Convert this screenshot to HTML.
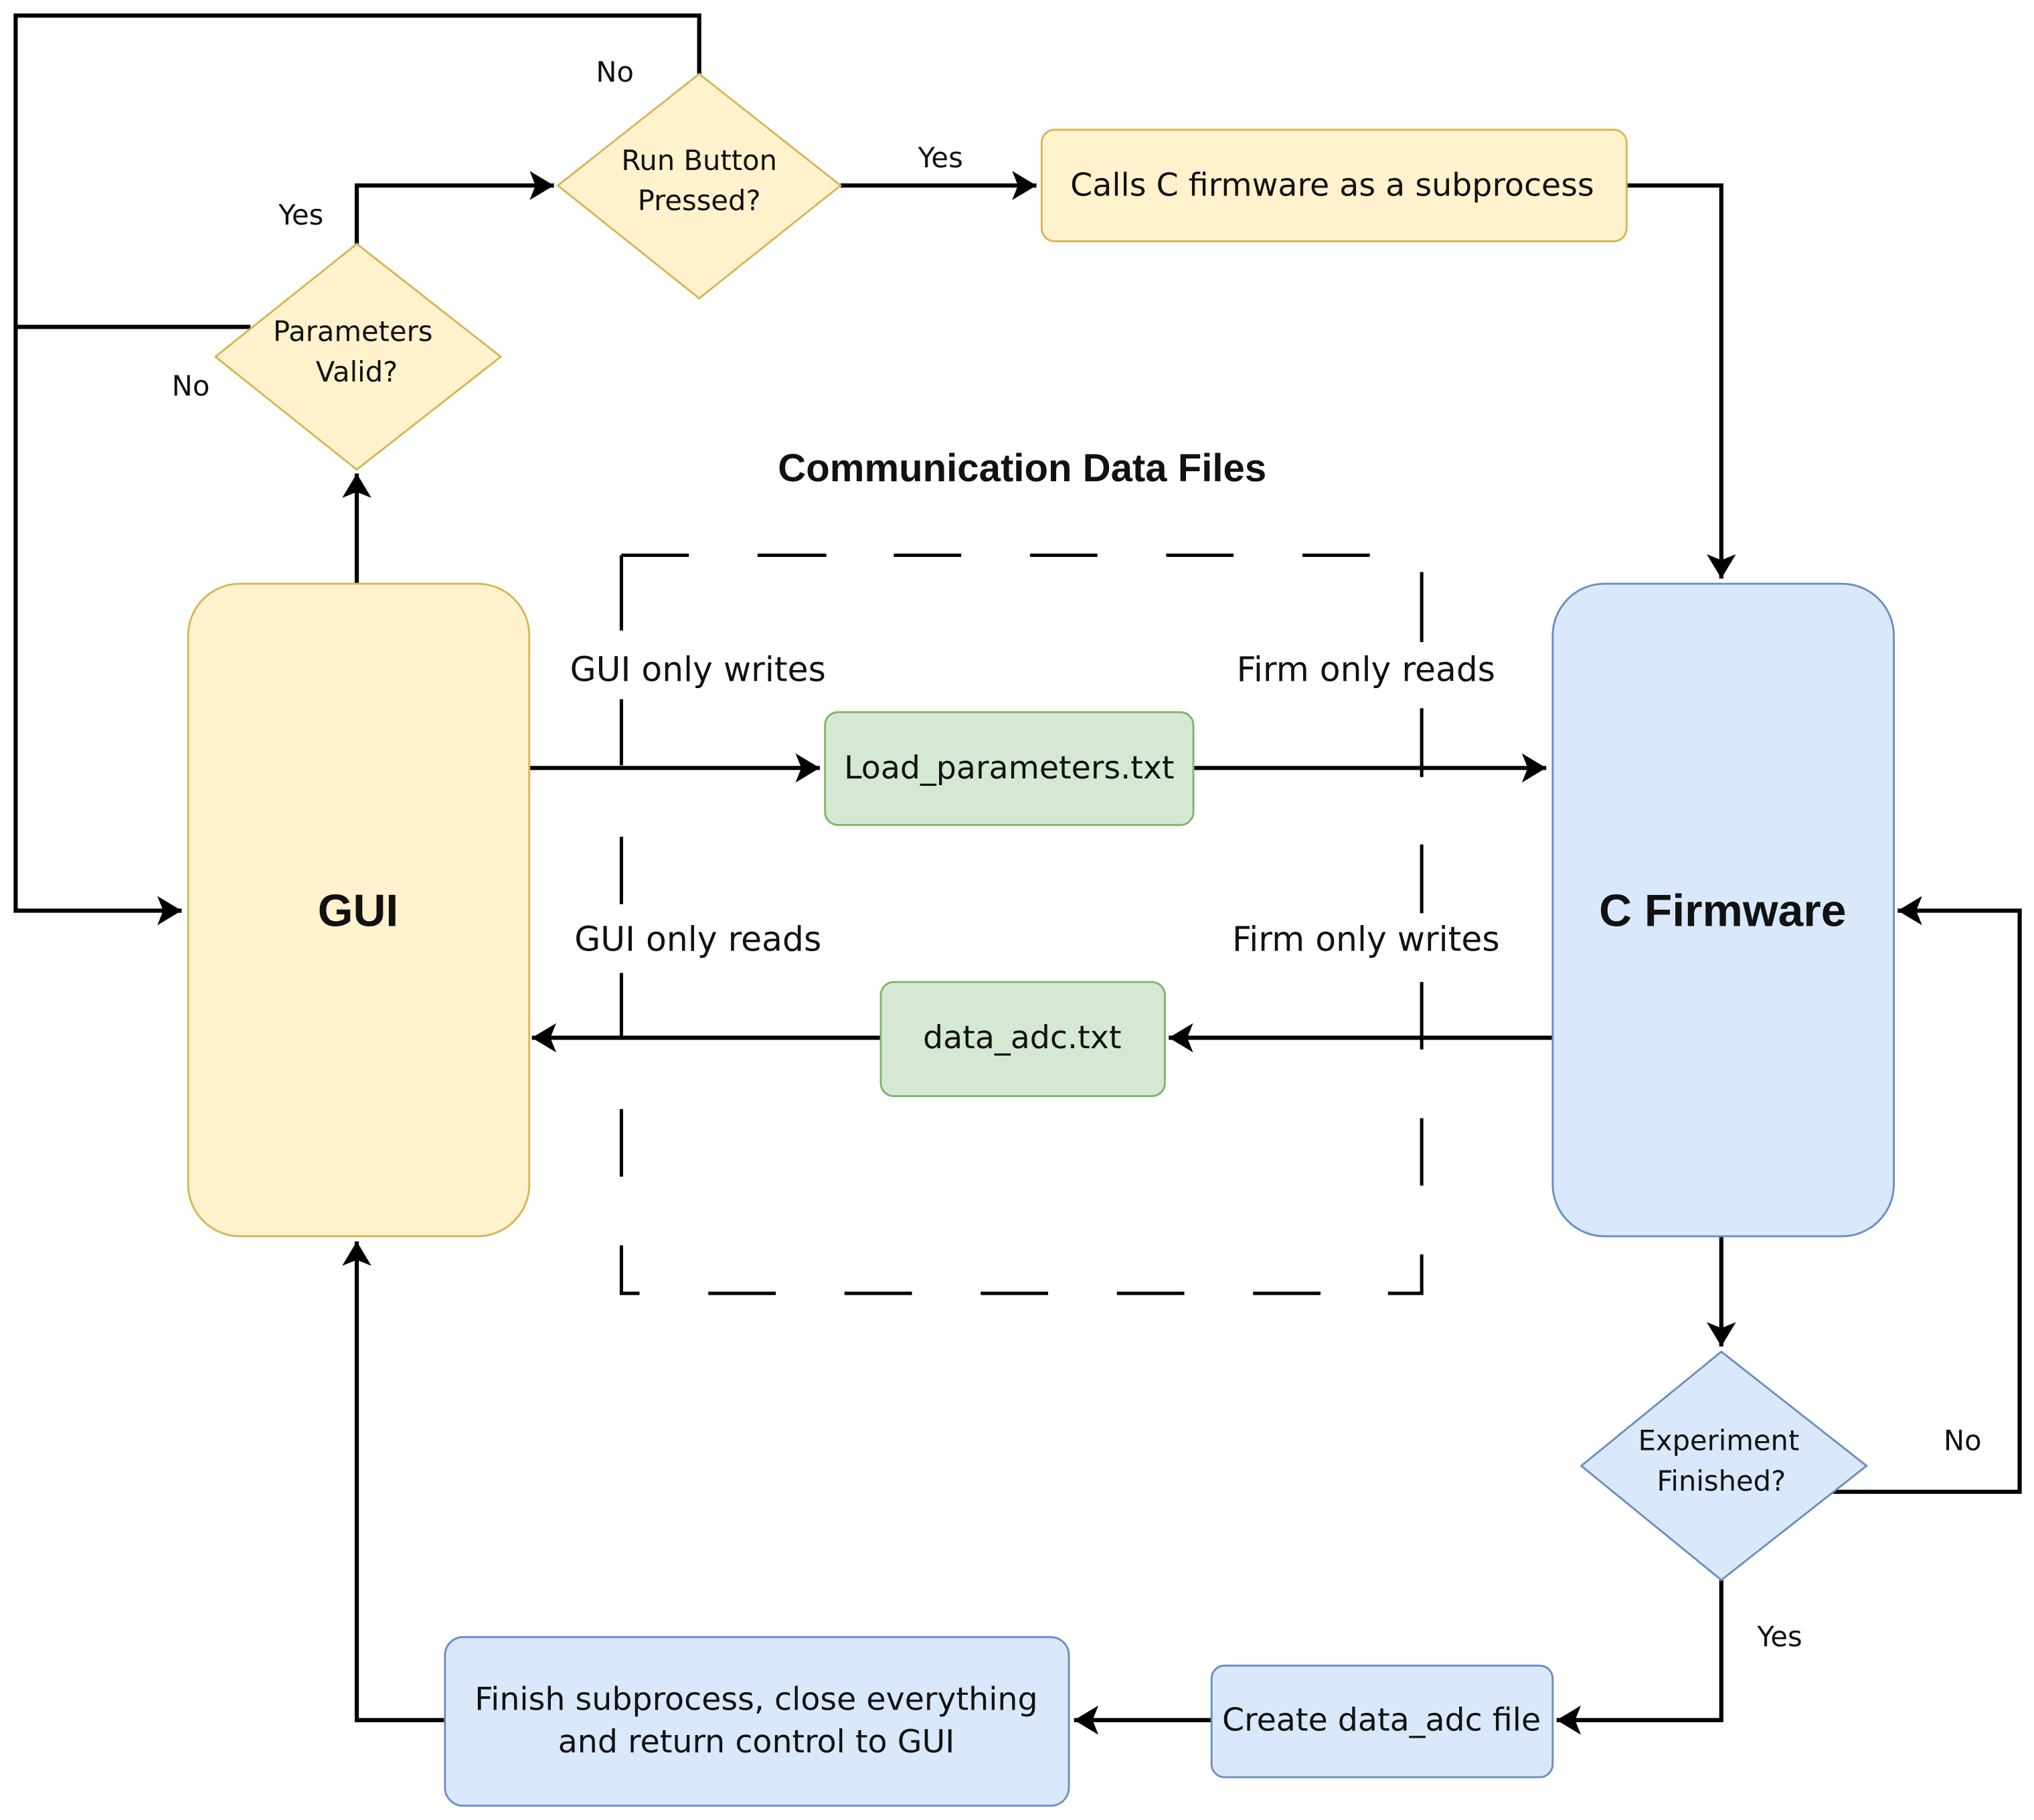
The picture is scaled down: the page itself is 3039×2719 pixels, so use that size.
<!DOCTYPE html>
<html><head><meta charset="utf-8"><style>
html,body{margin:0;padding:0;background:#fff;}
svg{display:block;}
text{font-family:"DejaVu Sans","Liberation Sans",sans-serif;fill:#111;}
</style></head><body>
<svg width="3039" height="2719" viewBox="0 0 1568 1403" xmlns="http://www.w3.org/2000/svg">
<defs>
<marker id="a" viewBox="0 0 12 12" refX="11" refY="6" markerWidth="9" markerHeight="9" markerUnits="userSpaceOnUse" orient="auto" overflow="visible">
<path d="M-14,-9 L11,6 L-14,21 L-8,6 Z" fill="#000"/>
</marker>
</defs>
<!-- dashed container -->
<g stroke="#000" stroke-width="2.6" fill="none">
<path d="M479,428 H531 M584,428 H637 M689,428 H741 M794,428 H846 M899,428 H951 M1004,428 H1056"/>
<path d="M479,428 V486 M479,539 V590 M479,645 V697 M479,750 V800 M479,855 V907 M479,960 V997 H493"/>
<path d="M546,997 H598 M651,997 H703 M756,997 H808 M861,997 H913 M966,997 H1018 M1070,997 H1096 V967 M1096,914 V862 M1096,809 V757 M1096,704 V651 M1096,599 V546 M1096,495 V441"/>
</g>
<g fill="none" stroke="#000" stroke-width="3.2">
<polyline points="539,57 539,12 12,12 12,702 140,702" marker-end="url(#a)"/>
<line x1="12" y1="252" x2="193" y2="252"/>
<polyline points="275,188 275,143 427,143" marker-end="url(#a)"/>
<line x1="648" y1="143" x2="799" y2="143" marker-end="url(#a)"/>
<polyline points="1254,143 1327,143 1327,446" marker-end="url(#a)"/>
<line x1="275" y1="450" x2="275" y2="365" marker-end="url(#a)"/>
<line x1="408" y1="592" x2="632" y2="592" marker-end="url(#a)"/>
<line x1="920" y1="592" x2="1192" y2="592" marker-end="url(#a)"/>
<line x1="1197" y1="800" x2="901" y2="800" marker-end="url(#a)"/>
<line x1="679" y1="800" x2="410" y2="800" marker-end="url(#a)"/>
<line x1="1327" y1="953" x2="1327" y2="1038" marker-end="url(#a)"/>
<polyline points="1413,1150 1557,1150 1557,702 1463,702" marker-end="url(#a)"/>
<polyline points="1327,1218 1327,1326 1200,1326" marker-end="url(#a)"/>
<line x1="934" y1="1326" x2="828" y2="1326" marker-end="url(#a)"/>
<polyline points="343,1326 275,1326 275,957" marker-end="url(#a)"/>
</g>
<polygon points="539,57 648,143 539,230 430,143" fill="#fff2cc" stroke="#d6b656" stroke-width="1.5"/>
<polygon points="275,188 386,275 275,362 166,275" fill="#fff2cc" stroke="#d6b656" stroke-width="1.5"/>
<polygon points="1327,1042 1439,1130 1327,1218 1219,1130" fill="#dae8fc" stroke="#6c8ebf" stroke-width="1.5"/>
<rect x="803" y="100" width="451" height="86" rx="10" fill="#fff2cc" stroke="#d6b656" stroke-width="1.5"/>
<rect x="145" y="450" width="263" height="503" rx="40" fill="#fff2cc" stroke="#d6b656" stroke-width="1.5"/>
<rect x="1197" y="450" width="263" height="503" rx="40" fill="#dae8fc" stroke="#6c8ebf" stroke-width="1.5"/>
<rect x="636" y="549" width="284" height="87" rx="10" fill="#d5e8d4" stroke="#82b366" stroke-width="1.5"/>
<rect x="679" y="757" width="219" height="88" rx="10" fill="#d5e8d4" stroke="#82b366" stroke-width="1.5"/>
<rect x="934" y="1284" width="263" height="86" rx="10" fill="#dae8fc" stroke="#6c8ebf" stroke-width="1.5"/>
<rect x="343" y="1262" width="481" height="130" rx="14" fill="#dae8fc" stroke="#6c8ebf" stroke-width="1.5"/>
<g text-anchor="middle" font-size="21.5">
<text x="539" y="131">Run Button</text>
<text x="539" y="162">Pressed?</text>
<text x="272" y="263">Parameters</text>
<text x="275" y="294">Valid?</text>
<text x="1325" y="1118">Experiment</text>
<text x="1327" y="1149">Finished?</text>
<text x="474" y="63">No</text>
<text x="232" y="173">Yes</text>
<text x="147" y="305">No</text>
<text x="725" y="129">Yes</text>
<text x="1513" y="1118">No</text>
<text x="1372" y="1269">Yes</text>
</g>
<g text-anchor="middle" font-size="26">
<text x="538" y="525">GUI only writes</text>
<text x="1053" y="525">Firm only reads</text>
<text x="538" y="733">GUI only reads</text>
<text x="1053" y="733">Firm only writes</text>
</g>
<g text-anchor="middle" font-size="24.5">
<text x="1027" y="151">Calls C firmware as a subprocess</text>
<text x="778" y="600">Load_parameters.txt</text>
<text x="788" y="808">data_adc.txt</text>
<text x="1065" y="1334">Create data_adc file</text>
<text x="583" y="1318">Finish subprocess, close everything</text>
<text x="583" y="1351">and return control to GUI</text>
</g>
<text x="788" y="371" text-anchor="middle" font-size="30" font-weight="bold" style="font-family:'Liberation Sans',sans-serif">Communication Data Files</text>
<text x="276" y="714" text-anchor="middle" font-size="35" font-weight="bold" style="font-family:'Liberation Sans',sans-serif">GUI</text>
<text x="1328" y="714" text-anchor="middle" font-size="35" font-weight="bold" style="font-family:'Liberation Sans',sans-serif">C Firmware</text>
</svg>
</body></html>
